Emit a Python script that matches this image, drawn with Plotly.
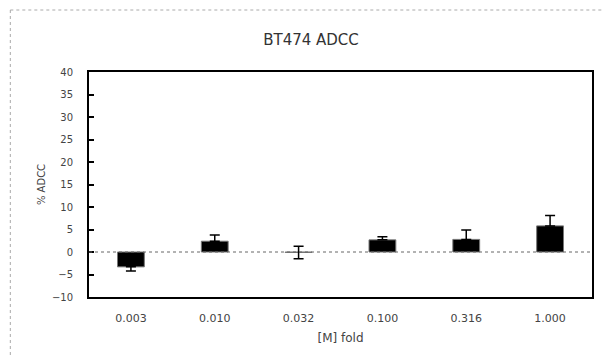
import plotly.graph_objects as go

# BT474 ADCC: mean % ADCC per antibody concentration, with one-sided error bars
concentrations = ["0.003", "0.010", "0.032", "0.100", "0.316", "1.000"]
adcc_mean = [-3.3, 2.4, -0.1, 2.7, 2.8, 5.8]
err_plus = [0.0, 1.4, 1.4, 0.7, 2.1, 2.3]
err_minus = [0.9, 0.0, 1.4, 0.0, 0.0, 0.0]
y_ticks = [-10, -5, 0, 5, 10, 15, 20, 25, 30, 35, 40]

L, R, T, B = 89, 9, 72, 59
W, H = 603, 356
pw, ph = W - L - R, H - T - B

fig = go.Figure()
fig.add_trace(go.Bar(
    x=concentrations,
    y=adcc_mean,
    width=0.32,
    marker=dict(color="black", line=dict(color="#777777", width=1)),
    error_y=dict(type="data", symmetric=False, array=err_plus, arrayminus=err_minus,
                 color="black", thickness=1.5, width=5),
    showlegend=False,
))

# dotted zero reference line
fig.add_shape(type="line", xref="paper", yref="y", x0=0, x1=1, y0=0, y1=0,
              line=dict(color="#666666", width=1, dash="dot"), layer="above")

# dotted outer frame (top and left edges)
fx = (10 - L) / pw
fy = 1 + (T - 10) / ph
fig.add_shape(type="line", xref="paper", yref="paper", x0=fx, x1=(W - L) / pw + 0.01,
              y0=fy, y1=fy, line=dict(color="#aaaaaa", width=1, dash="dot"))
fig.add_shape(type="line", xref="paper", yref="paper", x0=fx, x1=fx,
              y0=fy, y1=-(H - T - ph) / ph - 0.01, line=dict(color="#aaaaaa", width=1, dash="dot"))

fig.update_layout(
    width=W, height=H,
    margin=dict(l=L, r=R, t=T, b=B),
    paper_bgcolor="white", plot_bgcolor="white",
    font=dict(family="DejaVu Sans", size=10, color="#444444"),
    title=dict(text="BT474 ADCC", x=311 / W, xanchor="center",
               y=1 - 40 / H, yanchor="middle", font=dict(size=15, color="#333333")),
)
fig.update_xaxes(
    type="category", range=[-0.5, 5.5],
    showline=True, linecolor="black", linewidth=2, mirror=True,
    ticks="", showgrid=False,
    tickfont=dict(size=11),
    title=dict(text="[M] fold", standoff=9, font=dict(size=12, color="#444444")),
    ticklabelstandoff=10,
)
fig.update_yaxes(
    range=[-10, 40], tickvals=y_ticks,
    showline=True, linecolor="black", linewidth=2, mirror=True,
    ticks="inside", ticklen=5, tickcolor="black", tickwidth=1.5,
    showgrid=False, zeroline=False,
    tickfont=dict(size=10),
    title=dict(text="% ADCC", standoff=4, font=dict(size=10, color="#444444")),
    ticklabelstandoff=12,
)

fig.write_html("out.html")
